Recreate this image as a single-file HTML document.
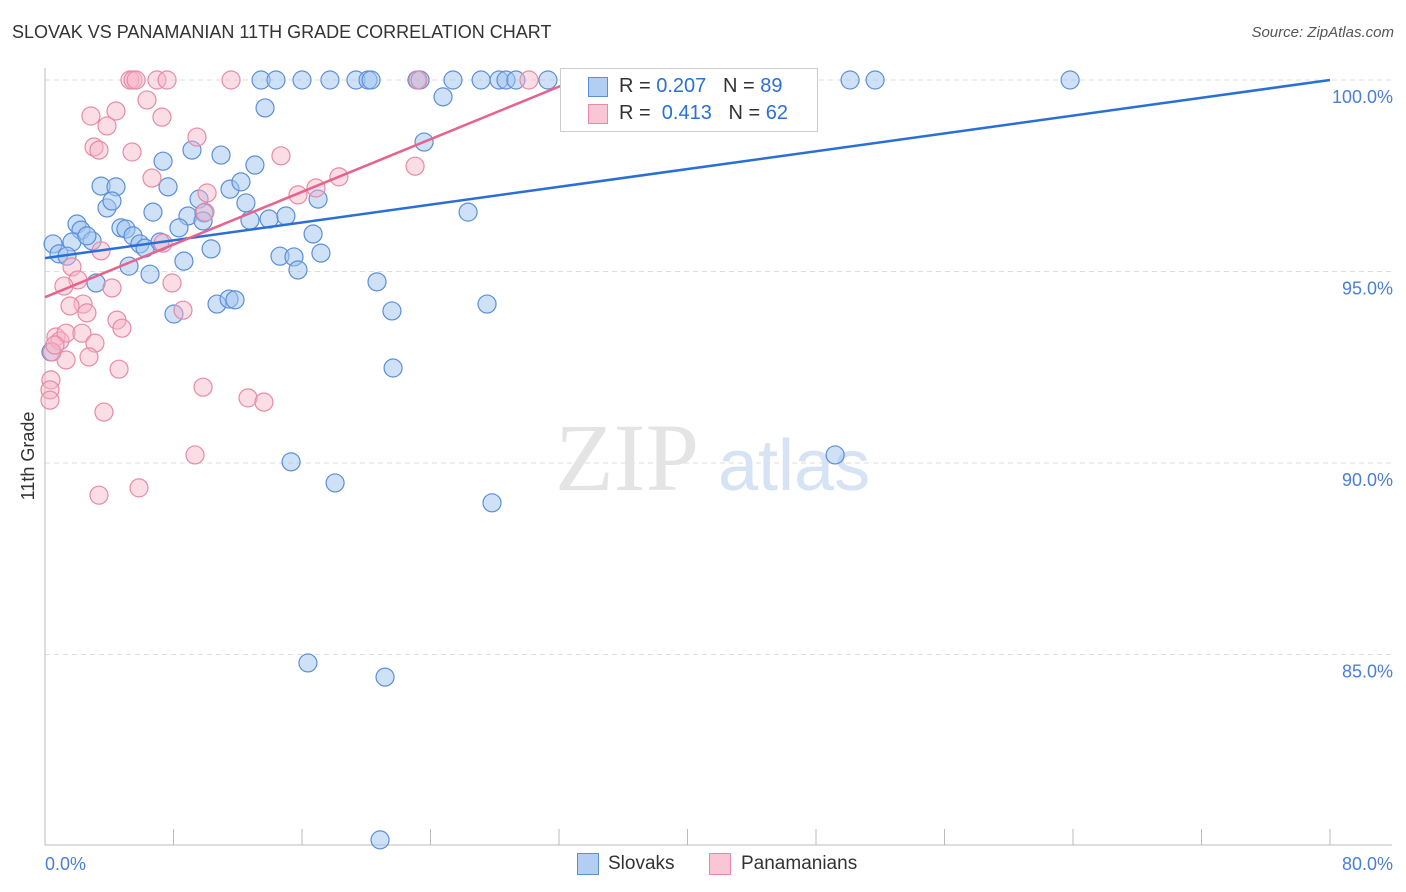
<!DOCTYPE html>
<html><head><meta charset="utf-8">
<style>
body{margin:0;background:#fff;font-family:"Liberation Sans",sans-serif;}
#wrap{position:relative;width:1406px;height:892px;overflow:hidden;}
.t{position:absolute;white-space:nowrap;}
</style></head>
<body>
<div id="wrap">
<div class="t" style="left:12px;top:22px;font-size:18px;color:#333;">SLOVAK VS PANAMANIAN 11TH GRADE CORRELATION CHART</div>
<div class="t" style="right:12px;top:24px;font-size:15px;color:#555;font-style:italic;">Source: ZipAtlas.com</div>
<svg id="svg" width="1406" height="892" style="position:absolute;left:0;top:0"></svg>
</div>
<script>
const blueX=[13.45,14.38,16.0,17.74,19.36,20.11,20.3,23.16,23.35,25.4,27.15,28.27,28.7,29.32,31.31,37.73,42.77,50.12,51.68,63.82,
13.7,24.78,23.6,7.35,9.15,10.96,13.07,3.49,4.42,7.66,11.52,12.2,12.51,9.59,17.0,3.86,4.17,6.72,8.9,9.9,12.76,13.95,15.0,26.34,1.99,2.24,4.73,5.04,8.34,9.84,16.69,1.68,2.93,2.61,5.48,5.91,6.23,7.16,0.5,0.87,1.37,10.34,14.63,15.5,17.18,5.23,6.54,8.65,15.75,20.67,3.18,10.71,11.46,11.83,27.52,8.03,21.6,0.37,21.67,49.19,15.32,18.06,27.83,16.37,21.17,20.86];
const blueY=[100,100,100,100,100,100,100,100,100,100,100,100,100,100,100,100,100,100,100,100,
99.27,99.56,98.38,97.88,98.17,98.04,97.78,97.23,97.21,97.21,97.15,97.34,96.79,96.89,96.89,96.66,96.84,96.55,96.45,96.53,96.34,96.37,96.45,96.55,96.24,96.08,96.14,96.11,96.14,96.32,95.98,95.77,95.8,95.93,95.93,95.72,95.61,95.77,95.72,95.46,95.4,95.59,95.4,95.38,95.48,95.14,94.93,95.27,95.04,94.73,94.7,94.15,94.28,94.26,94.15,93.89,93.97,92.9,92.48,90.21,90.03,89.48,88.96,84.78,84.41,80.16];
const pinkX=[5.29,5.48,5.67,6.97,7.6,11.58,23.22,30.13,41.84,6.35,2.86,4.42,7.28,3.86,3.05,3.36,5.42,9.46,14.69,6.66,10.09,15.75,16.87,18.3,23.04,9.96,3.49,1.68,2.05,1.18,7.35,7.91,2.37,1.56,2.61,4.17,4.48,4.79,8.59,0.68,0.93,1.31,2.3,3.11,2.74,1.31,4.61,0.44,0.37,0.31,0.31,3.67,9.84,12.64,13.63,9.34,5.85,3.36,0.62];
const pinkY=[100,100,100,100,100,100,100,100,100,99.48,99.06,99.19,99.03,98.8,98.25,98.17,98.12,98.51,98.02,97.44,97.05,97.0,97.18,97.47,97.75,96.55,95.54,95.12,94.78,94.62,95.74,94.7,94.15,94.1,93.92,94.57,93.73,93.52,93.99,93.29,93.19,93.39,93.39,93.13,92.77,92.69,92.45,92.9,92.17,91.91,91.64,91.33,91.98,91.7,91.59,90.21,89.35,89.16,93.08];
const yTicks=[100,95,90,85];
const xTickLabels=["0.0%","80.0%"];
const blueLine=[95.35,100];   // y at x=0, y at x=80
const pinkLine=[94.33,100.0,33.0]; // y at x=0, y at end, end x
const NS="http://www.w3.org/2000/svg";
const svg=document.getElementById('svg');
const X=v=>45+v*1285/80;
const Y=v=>80+(100-v)*38.3;
function mk(tag,attrs){const e=document.createElementNS(NS,tag);for(const k in attrs)e.setAttribute(k,attrs[k]);svg.appendChild(e);return e;}
// gridlines
yTicks.forEach(v=>{
 const g=mk('line',{x1:45,x2:1392,y1:Y(v),y2:Y(v),stroke:'#ddd','stroke-dasharray':'5,4'});
 
 
 const t=mk('text',{x:1393,y:Y(v)+23,'text-anchor':'end','font-size':18,fill:'#4a7fd4','font-family':'Liberation Sans'});
 t.textContent=v.toFixed(1)+'%';
 
 
});
// axes
let a=mk('line',{x1:45,x2:45,y1:68,y2:845,stroke:'#bbb'});


a=mk('line',{x1:45,x2:1392,y1:845,y2:845,stroke:'#bbb'});


for(let i=0;i<=10;i++){
 const tk=mk('line',{x1:X(i*8),x2:X(i*8),y1:829,y2:845,stroke:'#bbb'});
 
 
}
let xl=mk('text',{x:45,y:870,'font-size':18,fill:'#4a7fd4','font-family':'Liberation Sans'});
xl.textContent=xTickLabels[0];


xl=mk('text',{x:1393,y:870,'text-anchor':'end','font-size':18,fill:'#4a7fd4','font-family':'Liberation Sans'});
xl.textContent=xTickLabels[1];


let yt=mk('text',{x:0,y:0,transform:'translate(34,456) rotate(-90)','text-anchor':'middle','font-size':18,fill:'#333','font-family':'Liberation Sans'});
yt.textContent='11th Grade';


// watermark
let wm=mk('text',{x:555,y:490,'font-size':96,fill:'#e4e4e4','font-family':'Liberation Serif'});
wm.textContent='ZIP';


wm=mk('text',{x:718,y:490,'font-size':72,fill:'#d6e3f5','font-family':'Liberation Sans'});
wm.textContent='atlas';


// points
blueX.forEach((x,i)=>{
 const c=mk('circle',{cx:X(x),cy:Y(blueY[i]),r:9,fill:'rgba(160,195,240,0.5)',stroke:'#5b8fd9','stroke-width':1.2});
 
 
});
pinkX.forEach((x,i)=>{
 const c=mk('circle',{cx:X(x),cy:Y(pinkY[i]),r:9,fill:'rgba(246,180,200,0.45)',stroke:'#e88aa6','stroke-width':1.2});
 
 
});
let l=mk('line',{x1:X(0),y1:Y(blueLine[0]),x2:X(80),y2:Y(blueLine[1]),stroke:'#2a6fd6','stroke-width':2.5});


l=mk('line',{x1:X(0),y1:Y(pinkLine[0]),x2:X(pinkLine[2]),y2:Y(pinkLine[1]),stroke:'#e8628c','stroke-width':2.5});


</script>
<div style="position:absolute;left:560px;top:68px;width:256px;height:62px;background:#fff;border:1px solid #ccc;">
 <div style="position:absolute;left:27px;top:8px;width:18px;height:18px;background:#b3cef3;border:1px solid #5b8fd9;"></div>
 <div class="t" style="left:58px;top:6px;font-size:20px;color:#333;">R = <span style="color:#2a6fd6">0.207</span>&nbsp;&nbsp;&nbsp;N = <span style="color:#2a6fd6">89</span></div>
 <div style="position:absolute;left:27px;top:35px;width:18px;height:18px;background:#f9c6d5;border:1px solid #e88aa6;"></div>
 <div class="t" style="left:58px;top:33px;font-size:20px;color:#333;">R =&nbsp; <span style="color:#2a6fd6">0.413</span>&nbsp;&nbsp;&nbsp;N = <span style="color:#2a6fd6">62</span></div>
</div>
<div style="position:absolute;left:577px;top:853px;width:20px;height:20px;background:#b3cef3;border:1px solid #5b8fd9;"></div>
<div class="t" style="left:608px;top:853px;font-size:19px;color:#333;">Slovaks</div>
<div style="position:absolute;left:709px;top:853px;width:20px;height:20px;background:#f9c6d5;border:1px solid #e88aa6;"></div>
<div class="t" style="left:741px;top:853px;font-size:19px;color:#333;">Panamanians</div>
</body></html>
